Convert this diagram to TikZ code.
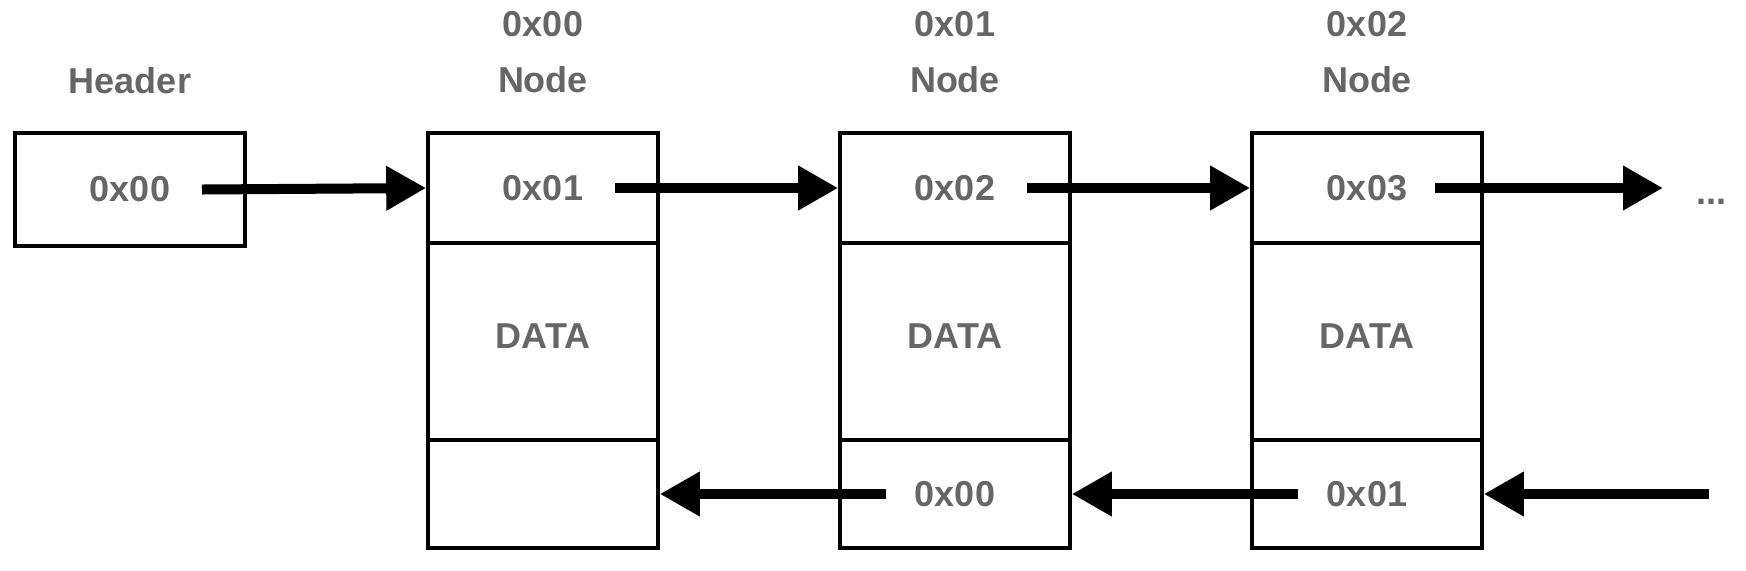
\documentclass[tikz,border=0pt]{standalone}
\usepackage{fontspec}
\setmainfont{Liberation Sans}
\usetikzlibrary{arrows.meta}
\definecolor{txtgray}{HTML}{666666}
\tikzset{
  cell/.style={draw, line width=1.8pt, minimum width=115pt, inner sep=0pt,
               font=\bfseries\fontsize{18}{20}\selectfont, text=txtgray},
  lbl/.style={font=\bfseries\fontsize{18}{20}\selectfont, text=txtgray},
  link/.style={line width=5pt, -{Triangle[length=20pt,width=21pt]}}
}
\begin{document}
\begin{tikzpicture}[x=0.5pt,y=-0.5pt]
  \useasboundingbox (0,0) rectangle (1746,570);

  % header
  \node[lbl] (hdlbl) at (130,81) {Header};
  \node[cell, minimum height=56.5pt] (hd) at (130,189.5) {0x00};

  % first node
  \node[lbl] (addr0) at (543,24.5) {0x00};
  \node[lbl] (name0) at (543,80) {Node};
  \node[cell, minimum height=55pt] (top0) at (543,188) {0x01};
  \node[cell, minimum height=98.5pt, text depth=5.5pt] (data0) at (543,341.5) {DATA};
  \node[cell, minimum height=54pt] (bot0) at (543,494) {};

  % second node
  \node[lbl] (addr1) at (955,24.5) {0x01};
  \node[lbl] (name1) at (955,80) {Node};
  \node[cell, minimum height=55pt] (top1) at (955,188) {0x02};
  \node[cell, minimum height=98.5pt, text depth=5.5pt] (data1) at (955,341.5) {DATA};
  \node[cell, minimum height=54pt] (bot1) at (955,494) {0x00};

  % third node
  \node[lbl] (addr2) at (1367,24.5) {0x02};
  \node[lbl] (name2) at (1367,80) {Node};
  \node[cell, minimum height=55pt] (top2) at (1367,188) {0x03};
  \node[cell, minimum height=98.5pt, text depth=5.5pt] (data2) at (1367,341.5) {DATA};
  \node[cell, minimum height=54pt] (bot2) at (1367,494) {0x01};

  % the list goes on
  \node[lbl] (more) at (1711,202) {...};
  \coordinate (outR) at (1663,188);
  \coordinate (inR) at (1709,494);

  % next pointers
  \draw[link] ([xshift=36pt]hd.center) -- (top0.west);
  \draw[link] ([xshift=36pt]top0.center) -- (top1.west);
  \draw[link] ([xshift=36pt]top1.center) -- (top2.west);
  \draw[link] ([xshift=34pt]top2.center) -- (outR);
  % previous pointers
  \draw[link] ([xshift=-34.5pt]bot1.center) -- (bot0.east);
  \draw[link] ([xshift=-34.5pt]bot2.center) -- (bot1.east);
  \draw[link] (inR) -- (bot2.east);
\end{tikzpicture}
\end{document}
